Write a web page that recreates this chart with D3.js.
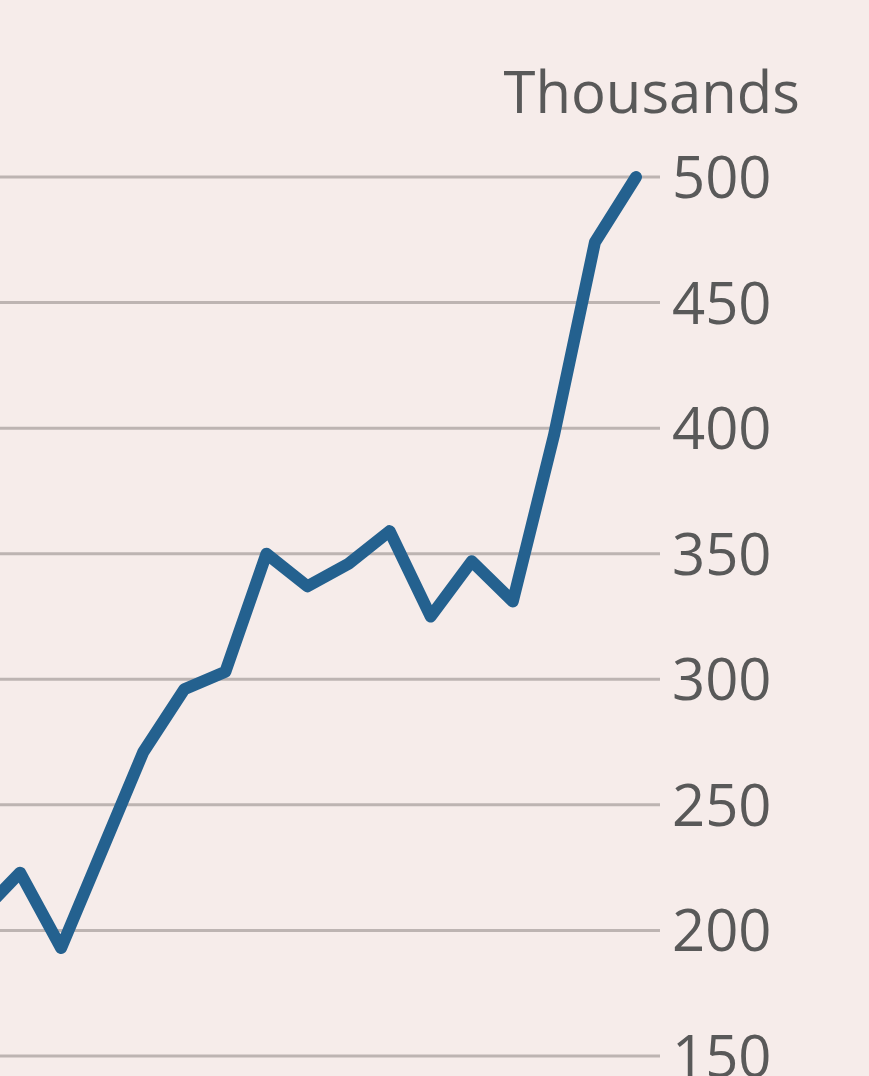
<!DOCTYPE html>
<html>
<head>
<meta charset="utf-8">
<script src="https://cdn.jsdelivr.net/npm/d3@7"></script>
<style>
  html, body { margin: 0; padding: 0; background: #f6ecea; }
  svg { display: block; }
  text { font-family: "Open Sans", "Noto Sans", sans-serif; fill: #595959; }
</style>
</head>
<body>
<svg id="chart" width="869" height="1076"></svg>
<script>
// Data (index of period, value in thousands)
const periods = [0, 1, 2, 3, 4, 5, 6, 7, 8, 9, 10, 11, 12, 13, 14, 15, 16];
const values  = [206, 223, 193, 232, 271, 296, 303, 350, 337, 346, 359, 325, 347, 331, 397, 474, 500];
const yTicks  = [150, 200, 250, 300, 350, 400, 450, 500];
const unitLabel = "Thousands";

const svg = d3.select("#chart");
svg.append("rect").attr("width", 869).attr("height", 1076).attr("fill", "#f6ecea");

const x = d3.scaleLinear().domain([0, 16]).range([-21, 636]);
const y = d3.scaleLinear().domain([150, 500]).range([1056, 177]);

// Gridlines
svg.append("g")
  .selectAll("line")
  .data(yTicks)
  .join("line")
  .attr("x1", 0).attr("x2", 660)
  .attr("y1", d => y(d)).attr("y2", d => y(d))
  .attr("stroke", "#bdb4b2")
  .attr("stroke-width", 3);

// Axis labels on the right
svg.append("g")
  .selectAll("text")
  .data(yTicks)
  .join("text")
  .attr("x", 672)
  .attr("y", d => y(d) + 21)
  .attr("font-size", 58)
  .text(d => d);

svg.append("text")
  .attr("x", 800)
  .attr("y", 113)
  .attr("text-anchor", "end")
  .attr("font-size", 58)
  .text(unitLabel);

// Line
const line = d3.line()
  .x((d, i) => x(periods[i]))
  .y(d => y(d));

svg.append("path")
  .datum(values)
  .attr("d", line)
  .attr("fill", "none")
  .attr("stroke", "#24618f")
  .attr("stroke-width", 12)
  .attr("stroke-linejoin", "round")
  .attr("stroke-linecap", "round");
</script>
</body>
</html>
